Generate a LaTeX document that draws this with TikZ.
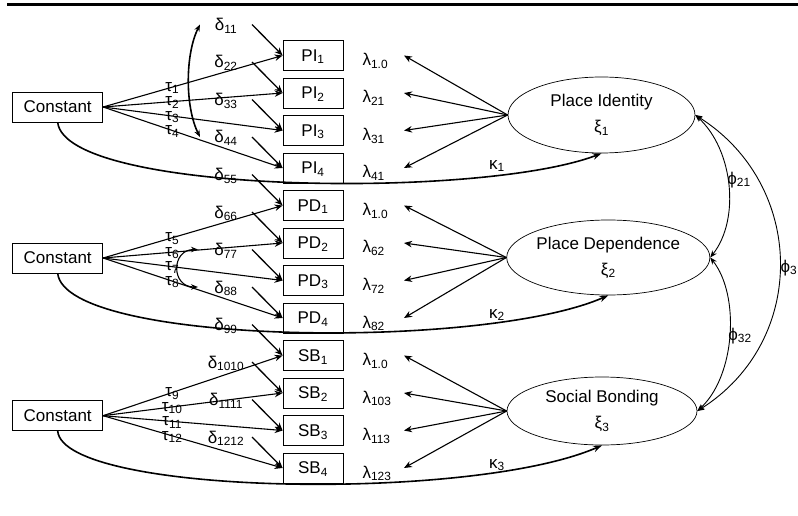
\documentclass[tikz,border=0pt]{standalone}
\usepackage{fontspec}
\setmainfont{Liberation Sans}
\usetikzlibrary{arrows.meta,shapes.geometric}
\tikzset{
  indbox/.style={draw,rectangle,minimum width=60pt,minimum height=30pt,inner sep=0pt,text depth=0pt,line width=0.8pt},
  constbox/.style={draw,rectangle,minimum width=90pt,minimum height=30pt,inner sep=0pt,text depth=0pt,line width=0.8pt},
  latent/.style={draw,ellipse,inner sep=0pt,align=center,line width=0.7pt},
  load/.style={-{Stealth[length=8pt,width=6.5pt]},line width=1.1pt},
  err/.style={-{Stealth[length=8pt,width=6.5pt]},line width=1.3pt},
  kap/.style={-{Stealth[length=9pt,width=6.5pt]},line width=1.6pt},
  cov/.style={{Stealth[length=7pt,width=5.5pt]}-{Stealth[length=7pt,width=5.5pt]},line width=0.9pt},
  lab/.style={inner sep=0pt}
}
\begin{document}
\begin{tikzpicture}[x=1pt,y=1pt,font=\fontsize{17}{26}\selectfont]
  \useasboundingbox (0,0) rectangle (798,515);
  \draw[line width=3pt] (7,510.7) -- (798,510.7);

  % constants and latent factors
  \node[constbox] (c1) at (57.7,408) {Constant};
  \node[constbox] (c2) at (57.7,257) {Constant};
  \node[constbox] (c3) at (57.7,99.3) {Constant};
  \node[latent,minimum width=187pt,minimum height=76pt] (e1) at (601.5,400) {Place Identity\\ξ\textsubscript{1}};
  \node[latent,minimum width=190pt,minimum height=75pt] (e2) at (608.3,257.5) {Place Dependence\\ξ\textsubscript{2}};
  \node[latent,minimum width=190pt,minimum height=68pt] (e3) at (602,104) {Social Bonding\\ξ\textsubscript{3}};

  % indicators with error, intercept and loading paths
  \foreach \gp/\GP/\cn/\lt [count=\gi from 0] in {pi/PI/c1/e1,pd/PD/c2/e2,sb/SB/c3/e3}
    \foreach \r in {1,...,4} {
      \pgfmathtruncatemacro\n{4*\gi+\r}
      \pgfmathsetmacro\yy{459.5-37.5*(\n-1)}
      \node[indbox] (\gp\r) at (313,\yy) {\GP\textsubscript{\r}};
      \node[lab,anchor=base] (d\n) at (226,\yy+25) {δ\textsubscript{\n\n}};
      \coordinate (\gp\r e) at (252,\yy+31);
      \coordinate (\gp\r l) at (404,\yy);
      \draw[err] (\gp\r e) -- (\gp\r.west);
      \draw[load] (\cn.east) -- node[pos=.385,yshift=-1pt] {τ\textsubscript{\n}} (\gp\r.west);
      \draw[load] (\lt.west) -- (\gp\r l);
    }

  \foreach \b/\l in {pi1/1.0,pi2/21,pi3/31,pi4/41,pd1/1.0,pd2/62,pd3/72,pd4/82,sb1/1.0,sb2/103,sb3/113,sb4/123}
    \node[lab,anchor=base west] (l\b) at ([shift={(19,-10)}]\b.east) {λ\textsubscript{\l}};

  % error covariances
  \draw[cov,line width=1.6pt] ([shift={(-26,6)}]d1.base) .. controls +(-15,-30) and +(-15,30) .. ([shift={(-26,6)}]d4.base);
  \draw[cov,line width=1.1pt] ([shift={(-28,6)}]d7.base) .. controls +(-27,0) and +(-27,0) .. ([shift={(-28,6)}]d8.base);

  % constants to factors
  \draw[kap] (c1.south) .. controls +(8,-72) and +(-120,-46) .. (e1.south);
  \draw[kap] (c2.south) .. controls +(8,-72) and +(-125,-55) .. (e2.south);
  \draw[kap] (c3.south) .. controls +(6,-64) and +(-131,-57) .. (e3.south);
  \node (k1) at (497,349) {κ\textsubscript{1}};
  \node (k2) at (497,200) {κ\textsubscript{2}};
  \node (k3) at (497,50) {κ\textsubscript{3}};

  % factor covariances
  \draw[cov] (e1.east) .. controls +(38,-35) and +(30,38) .. (e2.east);
  \draw[cov] (e2.east) .. controls +(30,-38) and +(38,35) .. (e3.east);
  \draw[cov] (e1.east) .. controls +(111,-70) and +(111,70) .. (e3.east);
  \node (f21) at (739,335) {ϕ\textsubscript{21}};
  \node (f32) at (740,179) {ϕ\textsubscript{32}};
  \node (f3) at (789,247) {ϕ\textsubscript{3}};
\end{tikzpicture}
\end{document}
